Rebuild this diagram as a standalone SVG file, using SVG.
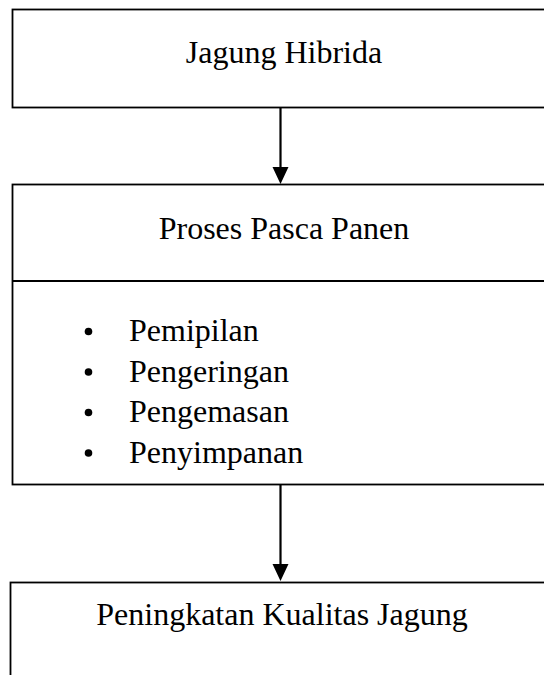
<svg xmlns="http://www.w3.org/2000/svg" width="544" height="675" viewBox="0 0 544 675">
<style>
.box{fill:#fff;stroke:#000;stroke-width:1.8}
.t{font-family:"Liberation Serif","Times New Roman",serif;font-size:32px;fill:#000}
.c{text-anchor:middle}
.b{fill:#000}
.conn line{stroke:#000;stroke-width:2.2}
.conn polygon{fill:#000}
</style>
<rect width="544" height="675" fill="#fff"/>
<g id="jagung-hibrida">
<rect class="box" x="12.5" y="9.5" width="560" height="98"/>
<text class="t c" x="284" y="63">Jagung Hibrida</text>
</g>
<g id="proses-pasca-panen">
<rect class="box" x="12.5" y="184.5" width="560" height="300"/>
<line x1="12.5" y1="281" x2="572.5" y2="281" stroke="#000" stroke-width="1.8"/>
<text class="t c" x="284" y="239">Proses Pasca Panen</text>
<circle class="b" cx="88.5" cy="331.5" r="3.8"/>
<text class="t" x="129" y="341">Pemipilan</text>
<circle class="b" cx="88.5" cy="372" r="3.8"/>
<text class="t" x="129" y="381.5">Pengeringan</text>
<circle class="b" cx="88.5" cy="412.5" r="3.8"/>
<text class="t" x="129" y="422">Pengemasan</text>
<circle class="b" cx="88.5" cy="453" r="3.8"/>
<text class="t" x="129" y="462.5">Penyimpanan</text>
</g>
<g id="peningkatan-kualitas">
<rect class="box" x="10.5" y="582.5" width="560" height="140"/>
<text class="t c" x="282" y="625">Peningkatan Kualitas Jagung</text>
</g>
<g class="conn" id="connectors">
<line x1="280.5" y1="108" x2="280.5" y2="170"/>
<polygon points="272.5,167 288.5,167 280.5,184"/>
<line x1="280.5" y1="485" x2="280.5" y2="567"/>
<polygon points="272.5,564 288.5,564 280.5,581"/>
</g>
</svg>
